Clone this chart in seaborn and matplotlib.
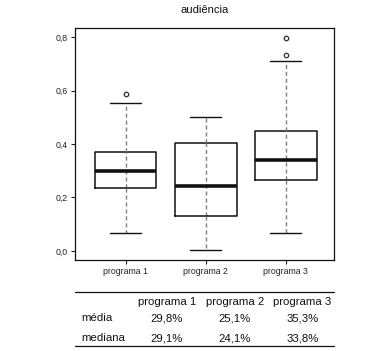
import numpy as np
import pandas as pd
import seaborn as sns
import matplotlib.pyplot as plt
from matplotlib.lines import Line2D

# valores (quartis, bigodes e outliers de cada programa)
programa_1 = [0.066, 0.15, 0.234, 0.27, 0.298, 0.33, 0.371, 0.552, 0.587]
programa_2 = [0.004, 0.131, 0.242, 0.403, 0.503]
programa_3 = [0.066, 0.15, 0.22, 0.264, 0.29, 0.32, 0.341, 0.37, 0.41, 0.447, 0.709, 0.733, 0.797]

categorias = ['programa 1', 'programa 2', 'programa 3']
yticks = [0.0, 0.2, 0.4, 0.6, 0.8]
ytick_labels = ['0,0', '0,2', '0,4', '0,6', '0,8']

# tabela abaixo do gráfico
linhas_tabela = ['média', 'mediana']
media = ['29,8%', '25,1%', '35,3%']
mediana = ['29,1%', '24,1%', '33,8%']

df = pd.DataFrame({
    'programa': [categorias[0]] * len(programa_1) + [categorias[1]] * len(programa_2)
                + [categorias[2]] * len(programa_3),
    'audiencia': programa_1 + programa_2 + programa_3,
})

sns.set_style('white')
plt.rcParams['font.family'] = ['Liberation Sans', 'DejaVu Sans']
plt.rcParams['text.color'] = '#111111'

fig = plt.figure(figsize=(3.65, 3.51), dpi=100)
ax = fig.add_axes([0.2055, 0.2593, 0.7095, 0.6607])

# linha tracejada atravessando a caixa (estilo do original)
for i, vals in enumerate([programa_1, programa_2, programa_3]):
    q1, q3 = np.percentile(vals, [25, 75])
    ax.vlines(i, q1, q3, colors='#808080', linestyles=(0, (3, 2)), lw=1, zorder=1)

sns.boxplot(data=df, x='programa', y='audiencia', order=categorias, ax=ax,
            fill=False, color='#111111', width=0.77, whis=1.5, linewidth=1.1,
            whiskerprops=dict(color='#808080', linestyle=(0, (3, 2)), lw=1),
            capprops=dict(color='#111111', lw=1),
            medianprops=dict(color='#111111', lw=2.6),
            flierprops=dict(marker='o', markersize=3.2, markerfacecolor='none',
                            markeredgecolor='#333333', markeredgewidth=0.9))

ax.set_xlim(-0.63, 2.6)
ax.set_ylim(-0.034, 0.834)
ax.set_yticks(yticks)
ax.set_yticklabels(ytick_labels, fontsize=6.3)
ax.set_xticks(range(len(categorias)))
ax.set_xticklabels(categorias, fontsize=6.3)
ax.set_xlabel('')
ax.set_ylabel('')
ax.set_title('audiência', fontsize=8.1, pad=11)
ax.tick_params(axis='both', direction='out', length=3, width=0.8, colors='#222222',
               bottom=True, left=True, pad=2)
for s in ax.spines.values():
    s.set_visible(True)
    s.set_color('#111111')
    s.set_linewidth(0.9)

# tabela
fig.add_artist(Line2D([0.2055, 0.915], [0.169, 0.169], color='#111111', lw=0.9))
fig.add_artist(Line2D([0.2055, 0.915], [0.015, 0.015], color='#111111', lw=0.9))
col_x = [0.4575, 0.643, 0.828]
for x, c in zip(col_x, categorias):
    fig.text(x, 0.139, c, ha='center', va='center', fontsize=8.2)
for y, nome, vals in zip([0.093, 0.037], linhas_tabela, [media, mediana]):
    fig.text(0.224, y, nome, ha='left', va='center', fontsize=8.2)
    for x, v in zip(col_x, vals):
        fig.text(x, y, v, ha='center', va='center', fontsize=8.2)

fig.savefig('out.png', dpi=100)
